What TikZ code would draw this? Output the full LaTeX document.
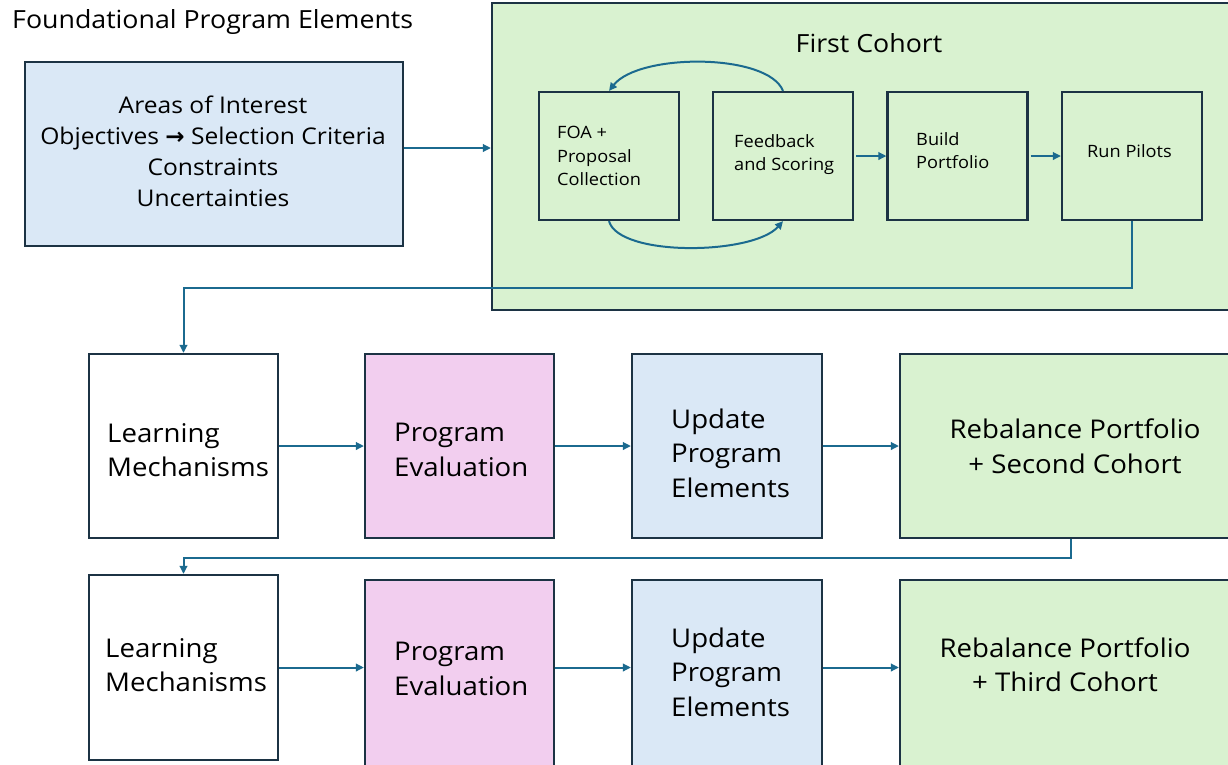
\documentclass[tikz,border=0pt]{standalone}
\usepackage{fontspec}
\setmainfont{Open Sans}[FakeStretch=1.07]
\newfontfamily\dejavu{DejaVu Sans}
\usetikzlibrary{arrows.meta,calc}
\definecolor{bluef}{HTML}{DAE8F6}
\definecolor{greenf}{HTML}{D9F2D0}
\definecolor{pinkf}{HTML}{F2CEEF}
\definecolor{bordc}{HTML}{1C3344}
\definecolor{arrc}{HTML}{1B6A8F}
\begin{document}
\begin{tikzpicture}[x=1pt,y=-1pt,
  box/.style={draw=bordc, line width=2.2pt, rectangle, inner sep=0pt},
  big/.style={box, minimum width=189pt, minimum height=184pt},
  small/.style={box, fill=greenf, minimum width=140pt, minimum height=128pt},
  txt/.style={inner sep=0pt, align=left, font=\fontsize{25.8}{34.5}\selectfont},
  stxt/.style={inner sep=0pt, align=left, anchor=west, font=\fontsize{17}{23.5}\selectfont},
  arr/.style={draw=arrc, line width=2pt, -{Triangle[length=8pt,width=7.5pt]}},
]
\clip (0,0) rectangle (1228,764);
\fill[white] (0,0) rectangle (1228,764);

% top-left
\node[anchor=base west, font=\fontsize{25}{30}\selectfont, inner sep=0pt] (title) at (12,28) {Foundational Program Elements};
\node[box, fill=bluef, minimum width=378pt, minimum height=184pt] (found) at (214,154) {};
\node[inner sep=0pt, align=center, font=\fontsize{23}{31}\selectfont] (foundt) at (213,151)
  {Areas of Interest\\Objectives {\dejavu\bfseries →} Selection Criteria\\Constraints\\Uncertainties};

% first cohort
\node[box, fill=greenf, minimum width=760pt, minimum height=307pt] (cohort) at (872,156.5) {};
\node[anchor=base, font=\fontsize{25}{30}\selectfont, inner sep=0pt] (ctitle) at (869,52) {First Cohort};

\node[small] (foa) at (609,156) {};
\node[small] (fb) at (783,156) {};
\node[small] (build) at (957.5,156) {};
\node[small] (pilots) at (1132,156) {};
\node[stxt] (foat) at (557,156) {FOA +\\Proposal\\Collection};
\node[stxt] (fbt) at (734,154.5) {Feedback\\and Scoring};
\node[stxt] (buildt) at (916,150.5) {Build\\Portfolio};
\node[stxt] (pilotst) at (1087,151) {Run Pilots};

\coordinate (foundout) at ($(found.east)+(0,-6)$);
\draw[arr] (foundout) -- (foundout -| cohort.west);
\draw[arr] (fb.north) .. controls +(-15,-38) and +(30,-38) .. (foa.north);
\draw[arr] (foa.south) .. controls +(10,36) and +(-30,34) .. (fb.south);
\draw[arr, shorten <=2pt] (fb.east) -- (build.west);
\draw[arr, shorten <=2pt] (build.east) -- (pilots.west);

% row 1
\node[big, fill=white] (learn1) at (183.5,446) {};
\node[big, fill=pinkf] (pe1) at (459.5,446) {};
\node[big, fill=bluef, minimum width=190pt] (upd1) at (727,446) {};
\node[big, fill=greenf, minimum width=350pt] (reb1) at (1075,446) {};
\node[txt, anchor=west] (learn1t) at (107,450) {Learning\\Mechanisms};
\node[txt, anchor=west] (pe1t) at (394,450) {Program\\Evaluation};
\node[txt, anchor=west] (upd1t) at (671,453) {Update\\Program\\Elements};
\node[txt, align=center] (reb1t) at (1075,446) {Rebalance Portfolio\\+ Second Cohort};

\draw[arr] (pilots.south) -- ++(0,67) -| (learn1.north);
\draw[arr] (learn1.east) -- (pe1.west);
\draw[arr] (pe1.east) -- (upd1.west);
\draw[arr] (upd1.east) -- (reb1.west);

% row 2
\node[big, fill=white, minimum height=185pt] (learn2) at (183.5,667.5) {};
\node[big, fill=pinkf, minimum height=190pt] (pe2) at (459.5,675) {};
\node[big, fill=bluef, minimum width=190pt, minimum height=190pt] (upd2) at (727,675) {};
\node[big, fill=greenf, minimum width=330pt, minimum height=190pt] (reb2) at (1065,675) {};
\node[txt, anchor=west] (learn2t) at (105,665) {Learning\\Mechanisms};
\node[txt, anchor=west] (pe2t) at (394,669) {Program\\Evaluation};
\node[txt, anchor=west] (upd2t) at (671,672) {Update\\Program\\Elements};
\node[txt, align=center] (reb2t) at (1065,664.5) {Rebalance Portfolio\\+ Third Cohort};

\draw[arr] ($(reb1.south)+(-4,0)$) -- ++(0,19) -| (learn2.north);
\draw[arr] (learn2.east) -- (learn2.east -| pe2.west);
\draw[arr] (learn2.east -| pe2.east) -- (learn2.east -| upd2.west);
\draw[arr] (learn2.east -| upd2.east) -- (learn2.east -| reb2.west);
\end{tikzpicture}
\end{document}
